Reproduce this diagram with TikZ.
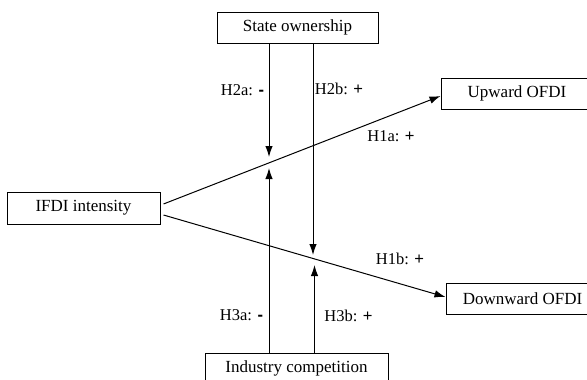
\documentclass[tikz,border=0pt]{standalone}
\usepackage{fontspec}
\setmainfont{Liberation Serif}
\newfontfamily\symfont{Liberation Sans}
\usetikzlibrary{arrows.meta,calc}
\begin{document}
\begin{tikzpicture}[x=1pt,y=-1pt,
  boxnode/.style={draw=black,line width=1pt,inner sep=0pt,minimum height=31pt,
    font=\fontsize{17}{20}\selectfont,text=black},
  lbl/.style={inner sep=0pt,font=\fontsize{16.5}{20}\selectfont,text=black},
  conn/.style={line width=1pt,-{Latex[length=11pt,width=7.5pt]}}]
\useasboundingbox (0,0) rectangle (587,380);
\clip (0,0) rectangle (587,380);
\node[boxnode,minimum width=161pt] (state) at (297.5,27.5) {State ownership};
\node[boxnode,minimum width=153pt,minimum height=32pt] (ifdi) at (83.5,208) {IFDI intensity};
\node[boxnode,minimum width=152pt] (up) at (517,93.5) {Upward OFDI};
\node[boxnode,minimum width=153pt] (down) at (522.5,298.5) {Downward OFDI};
\node[boxnode,minimum width=183pt] (ind) at (296.5,368.5) {Industry competition};
% start and end points
\coordinate (s1) at ($(ifdi.east)+(3,-4)$);
\coordinate (s2) at ($(ifdi.east)+(3,7)$);
\coordinate (e1) at ($(up.west)+(0,2.5)$);
\coordinate (e2) at ($(down.west)+(0,-1.5)$);
\draw[conn] (s1) -- (e1);
\draw[conn] (s2) -- (e2);
% moderating arrows
\coordinate (t2a) at (269,157);
\coordinate (t2b) at (313,255);
\coordinate (t3a) at (269,168);
\coordinate (t3b) at (314.5,265);
\draw[conn] (state.south -| t2a) -- (t2a);
\draw[conn] (state.south -| t2b) -- (t2b);
\draw[conn] (ind.north -| t3a) -- (t3a);
\draw[conn] (ind.north -| t3b) -- (t3b);
% labels
\node[lbl] (h2a) at (242.5,90) {H2a: {\symfont\bfseries -}};
\node[lbl] (h2b) at (339,89) {H2b: {\symfont +}};
\node[lbl] (h1a) at (391,136) {H1a: {\symfont +}};
\node[lbl] (h1b) at (400,259) {H1b: {\symfont +}};
\node[lbl] (h3a) at (241.5,315) {H3a: {\symfont\bfseries -}};
\node[lbl] (h3b) at (348.5,316) {H3b: {\symfont +}};
\end{tikzpicture}
\end{document}
